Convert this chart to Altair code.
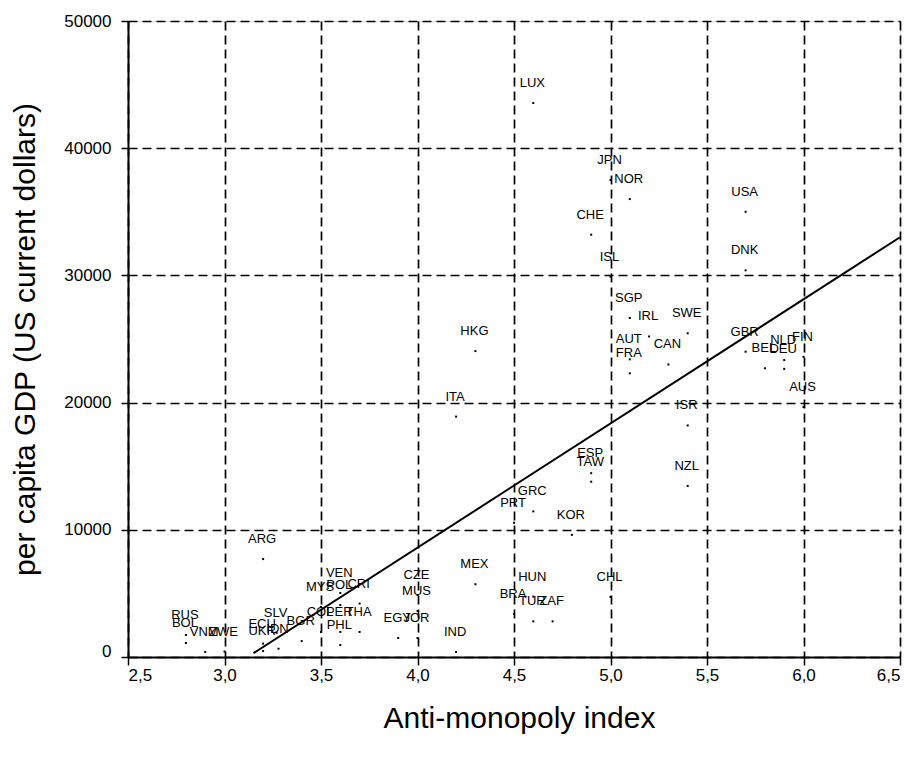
import altair as alt
import pandas as pd

countries = ["LUX", "JPN", "NOR", "USA", "CHE", "DNK", "ISL", "SGP", "IRL", "SWE",
             "HKG", "GBR", "FIN", "NLD", "AUT", "CAN", "BEL", "DEU", "FRA", "AUS",
             "ITA", "ISR", "ESP", "TAW", "NZL", "GRC", "PRT", "KOR", "ARG", "MEX",
             "VEN", "CZE", "HUN", "CHL", "CRI", "POL", "MYS", "MUS", "BRA", "TUR",
             "ZAF", "COL", "PER", "THA", "SLV", "RUS", "EGY", "JOR", "BGR", "ECU",
             "BOL", "PHL", "IDN", "UKR", "ZWE", "IND", "VNM"]
index_vals = [4.6, 5.0, 5.1, 5.7, 4.9, 5.7, 5.0, 5.1, 5.2, 5.4,
              4.3, 5.7, 6.0, 5.9, 5.1, 5.3, 5.8, 5.9, 5.1, 6.0,
              4.2, 5.4, 4.9, 4.9, 5.4, 4.6, 4.5, 4.8, 3.2, 4.3,
              3.6, 4.0, 4.6, 5.0, 3.7, 3.6, 3.5, 4.0, 4.5, 4.6,
              4.7, 3.5, 3.6, 3.7, 3.27, 2.8, 3.9, 4.0, 3.4, 3.2,
              2.8, 3.6, 3.28, 3.2, 3.0, 4.2, 2.9]
gdp_vals = [43550, 37500, 36000, 35000, 33200, 30400, 29900, 26650, 25200, 25450,
            24050, 24000, 23600, 23350, 23400, 23000, 22700, 22650, 22300, 19650,
            18900, 18200, 14450, 13780, 13450, 11450, 10550, 9600, 7700, 5720,
            5030, 4870, 4750, 4720, 4200, 4090, 3930, 3620, 3380, 2800,
            2800, 1970, 1970, 1970, 1900, 1730, 1490, 1490, 1250, 1050,
            1100, 940, 650, 470, 430, 400, 400]

fit_x = [3.15, 6.5]
fit_y = [300, 33000]

x_ticks = [2.5, 3.0, 3.5, 4.0, 4.5, 5.0, 5.5, 6.0, 6.5]
y_ticks = [0, 10000, 20000, 30000, 40000, 50000]

df = pd.DataFrame({"country": countries, "idx": index_vals, "gdp": gdp_vals})
fit = pd.DataFrame({"idx": fit_x, "gdp": fit_y})

FONT = "Liberation Sans"

xscale = alt.Scale(domain=[2.5, 6.5], nice=False, zero=False)
yscale = alt.Scale(domain=[0, 50000], nice=False)

xaxis = alt.Axis(
    values=x_ticks,
    labelExpr="replace(format(datum.value, '.1f'), '.', ',')",
    title="Anti-monopoly index",
    grid=True, gridDash=[9, 5], gridColor="black", gridWidth=1.7, gridOpacity=1,
    domainColor="black", domainWidth=2,
    tickColor="black", tickWidth=1.5, tickSize=8,
    labelFont=FONT, labelFontSize=17, labelColor="black", labelPadding=2,
    labelFlush=True, labelOverlap=False,
    titleFont=FONT, titleFontSize=30, titleFontWeight="normal", titleColor="black",
    titleBaseline="alphabetic", titleY=70, titleX=391,
)
yaxis = alt.Axis(
    values=y_ticks,
    format="d",
    title="per capita GDP (US current dollars)",
    grid=True, gridDash=[9, 5], gridColor="black", gridWidth=1.7, gridOpacity=1,
    domainColor="black", domainWidth=2,
    tickColor="black", tickWidth=1.5, tickSize=7,
    labelFont=FONT, labelFontSize=17, labelColor="black", labelPadding=10,
    labelFlush=False, labelOverlap=False,
    labelOffset=alt.condition("datum.value == 0", alt.value(-6), alt.value(0)),
    titleFont=FONT, titleFontSize=30, titleFontWeight="normal", titleColor="black",
    titleBaseline="alphabetic", titleX=-94,
)

base = alt.Chart(df)

points = base.mark_square(size=4, color="black", opacity=1).encode(
    x=alt.X("idx:Q", scale=xscale, axis=xaxis),
    y=alt.Y("gdp:Q", scale=yscale, axis=yaxis),
)

labels = base.mark_text(
    dy=-20, dx=-1, fontSize=13, font=FONT, color="black",
    align="center", baseline="middle",
).encode(
    x=alt.X("idx:Q", scale=xscale),
    y=alt.Y("gdp:Q", scale=yscale),
    text="country:N",
)

line = alt.Chart(fit).mark_line(color="black", strokeWidth=2).encode(
    x=alt.X("idx:Q", scale=xscale),
    y=alt.Y("gdp:Q", scale=yscale),
)

chart = alt.layer(points, labels, line).properties(
    width=772, height=636,
    autosize=alt.AutoSizeParams(type="none"),
    padding={"left": 120, "top": 13, "right": 4, "bottom": 90},
).configure_view(
    stroke="black", strokeWidth=2, fill="white",
).configure(background="white")

chart.save("out.html", embed_options={"renderer": "svg", "actions": False})
